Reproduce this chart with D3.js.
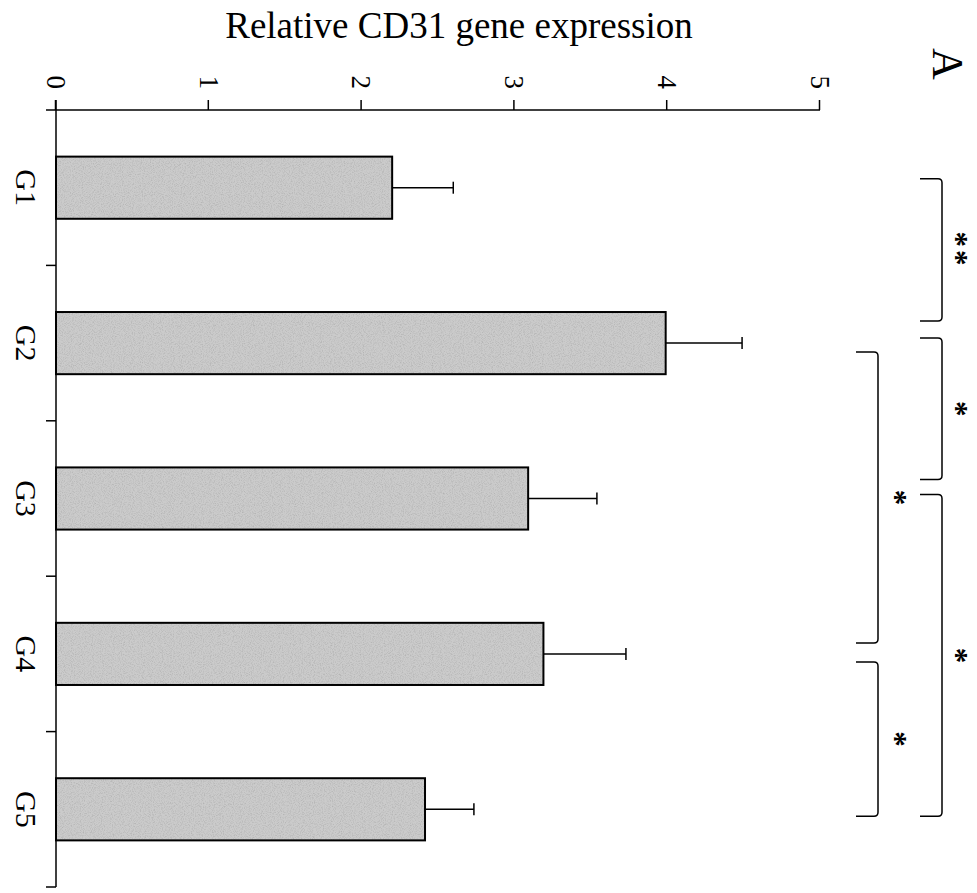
<!DOCTYPE html>
<html>
<head>
<meta charset="utf-8">
<script src="https://cdn.jsdelivr.net/npm/d3@7"></script>
<style>
  html, body { margin: 0; padding: 0; background: #fff; }
  svg { display: block; }
  text { font-family: "Liberation Serif", "Times New Roman", serif; fill: #000; }
</style>
</head>
<body>
<script>
// Groups, mean expression and one-sided error (SD) per group
const groups = ["G1", "G2", "G3", "G4", "G5"];
const means = [2.20, 3.99, 3.09, 3.19, 2.415];
const errors = [0.40, 0.50, 0.45, 0.54, 0.32];
const valueTicks = [0, 1, 2, 3, 4, 5];

// Significance brackets between groups (tier 1 = outer row, tier 0 = inner row)
const comparisons = [
  { from: "G1", to: "G2", label: "**", tier: 1 },
  { from: "G2", to: "G3", label: "*", tier: 1 },
  { from: "G3", to: "G5", label: "*", tier: 1 },
  { from: "G2", to: "G4", label: "*", tier: 0 },
  { from: "G4", to: "G5", label: "*", tier: 0 }
];
// pixel trims applied to each bracket's two ends
const bracketTrims = [[-9, -22], [-5, -19], [-4, 7], [9, -11], [8, 7]];

const W = 977, H = 893;
const svg = d3.select("body").append("svg").attr("width", W).attr("height", H);

// speckled print texture for the bar fill
const defs = svg.append("defs");
const grain = defs.append("filter").attr("id", "grain")
  .attr("x", 0).attr("y", 0).attr("width", 1).attr("height", 1);
grain.append("feTurbulence").attr("type", "fractalNoise")
  .attr("baseFrequency", 0.9).attr("numOctaves", 2).attr("seed", 7).attr("result", "t");
grain.append("feColorMatrix").attr("in", "t").attr("type", "matrix")
  .attr("values", "0 0 0 0 0.45  0 0 0 0 0.45  0 0 0 0 0.45  2.2 0 0 0 -0.95")
  .attr("result", "specks");
grain.append("feComposite").attr("in", "specks").attr("in2", "SourceAlpha")
  .attr("operator", "in");

// The chart is built as an ordinary column chart and turned a quarter turn clockwise.
const g = svg.append("g").attr("transform", `translate(${W},0) rotate(90)`);

const xs = d3.scaleBand().domain(groups).range([110, 887])
  .paddingInner(0.6).paddingOuter(0.3);
const ys = d3.scaleLinear().domain([0, 5]).range([921, 157]);

// bars: base fill, grain overlay, outline
const bars = g.selectAll("g.bar").data(groups).join("g").attr("class", "bar");
const barAttrs = sel => sel
  .attr("x", d => xs(d))
  .attr("width", xs.bandwidth())
  .attr("y", (d, i) => ys(means[i]))
  .attr("height", (d, i) => ys(0) - ys(means[i]));
bars.append("rect").call(barAttrs).attr("fill", "#cbcbcb");
bars.append("rect").call(barAttrs).attr("fill", "#000").attr("filter", "url(#grain)");
bars.append("rect").call(barAttrs).attr("fill", "none")
  .attr("stroke", "#000").attr("stroke-width", 2);

// error bars (upper side only)
const eb = g.selectAll("g.err").data(groups).join("g").attr("class", "err");
eb.append("line")
  .attr("x1", d => xs(d) + xs.bandwidth() / 2)
  .attr("x2", d => xs(d) + xs.bandwidth() / 2)
  .attr("y1", (d, i) => ys(means[i]))
  .attr("y2", (d, i) => ys(means[i] + errors[i]))
  .attr("stroke", "#000").attr("stroke-width", 1.5);
eb.append("line")
  .attr("x1", d => xs(d) + xs.bandwidth() / 2 - 6)
  .attr("x2", d => xs(d) + xs.bandwidth() / 2 + 6)
  .attr("y1", (d, i) => ys(means[i] + errors[i]))
  .attr("y2", (d, i) => ys(means[i] + errors[i]))
  .attr("stroke", "#000").attr("stroke-width", 1.5);

// value axis
const yAxis = g.append("g").attr("transform", `translate(${xs.range()[0]},0)`)
  .call(d3.axisLeft(ys).tickValues(valueTicks).tickFormat(d3.format("d"))
    .tickSize(10).tickSizeOuter(0).tickPadding(11));
yAxis.select(".domain").remove();
yAxis.selectAll(".tick line").attr("stroke", "#000").attr("stroke-width", 1.5);
yAxis.selectAll(".tick text").style("font-size", "27px")
  .style("font-family", "'Liberation Serif', serif");
g.append("line")
  .attr("x1", xs.range()[0]).attr("x2", xs.range()[0])
  .attr("y1", ys(0) + 10).attr("y2", ys(5))
  .attr("stroke", "#000").attr("stroke-width", 1.5);

// category axis: baseline, boundary ticks, labels
g.append("line")
  .attr("x1", xs.range()[0] - 10).attr("x2", xs.range()[1])
  .attr("y1", ys(0)).attr("y2", ys(0))
  .attr("stroke", "#000").attr("stroke-width", 1.5);
g.selectAll("line.bound").data(d3.range(1, groups.length + 1)).join("line")
  .attr("class", "bound")
  .attr("x1", k => xs.range()[0] + k * xs.step())
  .attr("x2", k => xs.range()[0] + k * xs.step())
  .attr("y1", ys(0)).attr("y2", ys(0) + 10)
  .attr("stroke", "#000").attr("stroke-width", 1.5);
const xAxis = g.append("g").attr("transform", `translate(0,${ys(0)})`)
  .call(d3.axisBottom(xs).tickSize(0).tickPadding(19));
xAxis.select(".domain").remove();
xAxis.selectAll(".tick text").style("font-size", "30px")
  .style("font-family", "'Liberation Serif', serif");

// significance brackets
const tierLine = { 1: 35, 0: 99 };
const starBase = { 1: 31, 0: 92 };
const serif = 22;
const mid = d => xs(d) + xs.bandwidth() / 2;
comparisons.forEach((c, i) => {
  const a = mid(c.from) + bracketTrims[i][0];
  const b = mid(c.to) + bracketTrims[i][1];
  const v = tierLine[c.tier];
  const r = 4;
  g.append("path")
    .attr("d", `M${a},${v + serif} L${a},${v + r} Q${a},${v} ${a + r},${v}` +
               ` L${b - r},${v} Q${b},${v} ${b},${v + r} L${b},${v + serif}`)
    .attr("fill", "none").attr("stroke", "#000").attr("stroke-width", 1.5);
  g.append("text")
    .attr("x", (a + b) / 2).attr("y", starBase[c.tier])
    .attr("text-anchor", "middle")
    .style("font-size", "31px")
    .style("font-weight", "bold")
    .style("letter-spacing", c.label.length > 1 ? "3px" : "0px")
    .text(c.label);
});

// panel letter
g.append("text").attr("x", 64).attr("y", 44).attr("text-anchor", "middle")
  .style("font-size", "44px").text("A");

// value axis title
svg.append("text").attr("x", 459).attr("y", 38).attr("text-anchor", "middle")
  .style("font-size", "37px").text("Relative CD31 gene expression");
</script>
</body>
</html>
